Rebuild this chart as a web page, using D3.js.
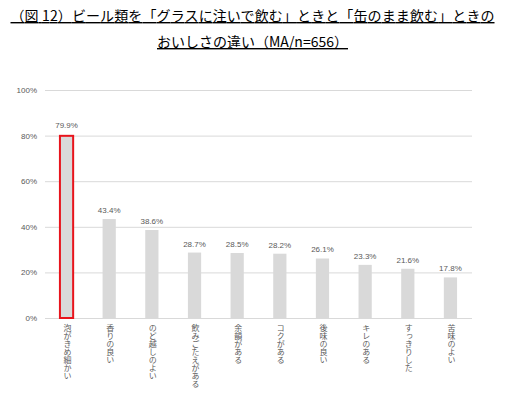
<!DOCTYPE html>
<html>
<head>
<meta charset="utf-8">
<script src="https://cdn.jsdelivr.net/npm/d3@7"></script>
<style>
  body { margin: 0; background: #fff; }
  svg { font-family: "Noto Sans CJK JP", sans-serif; }
</style>
</head>
<body>
<svg id="chart"></svg>
<script>
const categories = ["泡がきめ細かい", "香りの良い", "のど越しのよい", "飲みごたえがある", "余韻がある",
  "コクがある", "後味の良い", "キレのある", "すっきりした", "苦味のよい"];
const values = [79.9, 43.4, 38.6, 28.7, 28.5, 28.2, 26.1, 23.3, 21.6, 17.8];
const yTicks = [0, 20, 40, 60, 80, 100];
const titleLines = ["（図 12）ビール類を「グラスに注いで飲む」ときと「缶のまま飲む」ときの",
  "おいしさの違い（MA/n=656）"];

const width = 505, height = 398;
const margin = { top: 90, right: 33, bottom: 80, left: 45 };

const svg = d3.select("#chart").attr("width", width).attr("height", height);

// title
titleLines.forEach((t, i) => {
  const tt = svg.append("text")
    .attr("x", width / 2)
    .attr("y", 21 + i * 26)
    .attr("text-anchor", "middle")
    .attr("font-size", 14)
    .attr("fill", "#000")
    .attr("text-decoration", "underline")
    .text(t);
  if (i === 0) tt.attr("textLength", 484).attr("lengthAdjust", "spacing");
});

const x = d3.scaleBand().domain(categories)
  .range([margin.left, width - margin.right]).paddingInner(0.69).paddingOuter(0.35);
const y = d3.scaleLinear().domain([0, 100]).range([height - margin.bottom, margin.top]);

// grid
svg.append("g")
  .selectAll("line")
  .data(yTicks)
  .join("line")
  .attr("x1", margin.left)
  .attr("x2", width - margin.right)
  .attr("y1", d => y(d) + 0.5)
  .attr("y2", d => y(d) + 0.5)
  .attr("stroke", "#d9d9d9")
  .attr("stroke-width", 1);

// y axis labels
const yAxis = svg.append("g")
  .attr("transform", `translate(${margin.left}, 0)`)
  .call(d3.axisLeft(y).tickValues(yTicks).tickFormat(d => d + "%").tickSize(0).tickPadding(8));
yAxis.select(".domain").remove();
yAxis.selectAll("text").attr("font-size", 8).attr("fill", "#595959")
  .attr("font-family", "Liberation Sans, sans-serif");

// bars
svg.append("g")
  .selectAll("rect")
  .data(values)
  .join("rect")
  .attr("x", (d, i) => x(categories[i]))
  .attr("y", d => y(d))
  .attr("width", x.bandwidth())
  .attr("height", d => y(0) - y(d))
  .attr("fill", "#d9d9d9")
  .attr("stroke", (d, i) => i === 0 ? "#e8141c" : "none")
  .attr("stroke-width", 2);

// value labels
svg.append("g")
  .selectAll("text")
  .data(values)
  .join("text")
  .attr("x", (d, i) => x(categories[i]) + x.bandwidth() / 2)
  .attr("y", (d, i) => y(d) - (i === 0 ? 8 : 6))
  .attr("text-anchor", "middle")
  .attr("font-size", 8)
  .attr("font-family", "Liberation Sans, sans-serif")
  .attr("fill", "#595959")
  .text(d => d.toFixed(1) + "%");

// category labels (vertical)
svg.append("g")
  .selectAll("text")
  .data(categories)
  .join("text")
  .attr("x", d => x(d) + x.bandwidth() / 2 + 1)
  .attr("y", y(0) + 6)
  .style("writing-mode", "vertical-rl")
  .attr("font-size", 8)
  .attr("fill", "#595959")
  .text(d => d);
</script>
</body>
</html>
